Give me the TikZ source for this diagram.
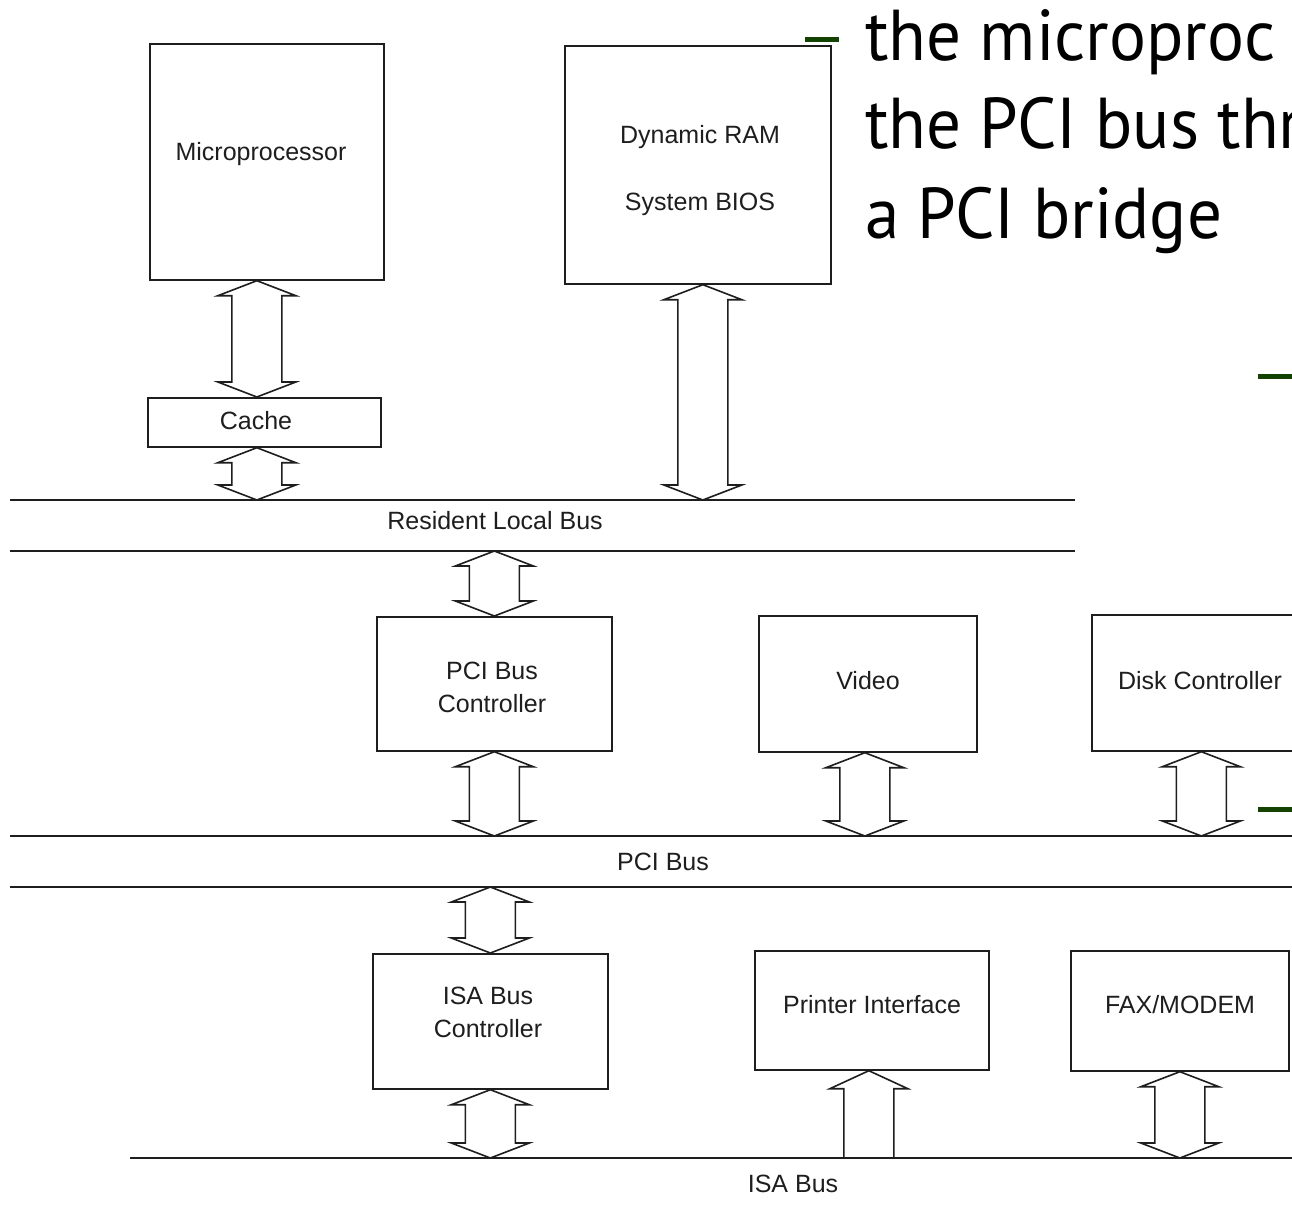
\documentclass[tikz,border=0pt]{standalone}
\usepackage{fontspec}
\setmainfont{Liberation Sans}
\newfontfamily\slidefont[FakeStretch=0.96]{PT Sans}
\usetikzlibrary{calc}
\definecolor{ink}{RGB}{30,30,30}
\definecolor{bulletgreen}{RGB}{20,66,0}

% hollow two-headed bus arrow between two points on the same vertical
\newcommand\dblarrow[2]{%
  \draw[barrow] (#1) -- ($(#1)+(39,15)$) -- ($(#1)+(25,15)$)
    -- ($(#2)+(25,-15)$) -- ($(#2)+(39,-15)$) -- (#2)
    -- ($(#2)+(-39,-15)$) -- ($(#2)+(-25,-15)$)
    -- ($(#1)+(-25,15)$) -- ($(#1)+(-39,15)$) -- cycle;}

\begin{document}
\begin{tikzpicture}[x=1pt,y=-1pt,
  box/.style={draw=ink, line width=1.7pt, inner sep=0pt, anchor=north west},
  lbl/.style={font=\fontsize{25}{30}\selectfont, text=ink, anchor=base, inner sep=0pt},
  bus/.style={draw=ink, line width=1.8pt},
  barrow/.style={draw=ink, line width=1.6pt, line join=miter, fill=white},
  bulletdash/.style={draw=bulletgreen, line width=5pt},
  slide/.style={font=\slidefont\fontsize{72}{89}\selectfont, anchor=base west, inner sep=0pt}
]
\clip (0,0) rectangle (1292,1207);
\fill[white] (0,0) rectangle (1292,1207);

% ---- boxes ----
\node[box, minimum width=234pt, minimum height=236pt] (micro) at (149,43) {};
\node[box, minimum width=266pt, minimum height=238pt] (dram) at (564,45) {};
\node[box, minimum width=233pt, minimum height=49pt] (cache) at (147,397) {};
\node[box, minimum width=235pt, minimum height=134pt] (pcic) at (376,616) {};
\node[box, minimum width=218pt, minimum height=136pt] (video) at (758,615) {};
\node[box, minimum width=219pt, minimum height=136pt] (disk) at (1091,614) {};
\node[box, minimum width=235pt, minimum height=135pt] (isac) at (372,953) {};
\node[box, minimum width=234pt, minimum height=119pt] (printer) at (754,950) {};
\node[box, minimum width=218pt, minimum height=120pt] (fax) at (1070,950) {};

% ---- box labels ----
\node[lbl] (microL) at (261,160) {Microprocessor};
\node[lbl] (dramL1) at (700,143) {Dynamic RAM};
\node[lbl] (dramL2) at (700,210) {System BIOS};
\node[lbl] (cacheL) at (256,429) {Cache};
\node[lbl] (pcicL1) at (492,679) {PCI Bus};
\node[lbl] (pcicL2) at (492,712) {Controller};
\node[lbl] (videoL) at (868,689) {Video};
\node[lbl] (diskL) at (1200,689) {Disk Controller};
\node[lbl] (isacL1) at (488,1004) {ISA Bus};
\node[lbl] (isacL2) at (488,1037) {Controller};
\node[lbl] (printerL) at (872,1013) {Printer Interface};
\node[lbl] (faxL) at (1180,1013) {FAX/MODEM};

% ---- buses ----
\coordinate (rlbA0) at (10,500);  \coordinate (rlbA1) at (1075,500);
\coordinate (rlbB0) at (10,551);  \coordinate (rlbB1) at (1075,551);
\coordinate (pciA0) at (10,836);  \coordinate (pciA1) at (1292,836);
\coordinate (pciB0) at (10,887);  \coordinate (pciB1) at (1292,887);
\coordinate (isa0) at (130,1158); \coordinate (isa1) at (1292,1158);
\draw[bus] (rlbA0) -- (rlbA1);
\draw[bus] (rlbB0) -- (rlbB1);
\draw[bus] (pciA0) -- (pciA1);
\draw[bus] (pciB0) -- (pciB1);
\draw[bus] (isa0) -- (isa1);
\node[lbl] (rlbL) at (495,529) {Resident Local Bus};
\node[lbl] (pciL) at (663,870) {PCI Bus};
\node[lbl] (isaL) at (793,1192) {ISA Bus};

% ---- bus arrows ----
\coordinate (a1t) at ([xshift=-10pt]micro.south);
\coordinate (a1b) at (a1t |- cache.north);
\dblarrow{a1t}{a1b}
\coordinate (a2t) at (a1t |- cache.south);
\coordinate (a2b) at (a1t |- rlbA0);
\dblarrow{a2t}{a2b}
\coordinate (a3t) at ([xshift=5pt]dram.south);
\coordinate (a3b) at (a3t |- rlbA0);
\dblarrow{a3t}{a3b}
\coordinate (a4t) at (pcic.north |- rlbB0);
\dblarrow{a4t}{pcic.north}
\coordinate (a5b) at (pcic.south |- pciA0);
\dblarrow{pcic.south}{a5b}
\coordinate (a6t) at ([xshift=-3pt]video.south);
\coordinate (a6b) at (a6t |- pciA0);
\dblarrow{a6t}{a6b}
\coordinate (a7b) at (disk.south |- pciA0);
\dblarrow{disk.south}{a7b}
\coordinate (a8t) at (isac.north |- pciB0);
\dblarrow{a8t}{isac.north}
\coordinate (a9b) at (isac.south |- isa0);
\dblarrow{isac.south}{a9b}
\coordinate (a11b) at (fax.south |- isa0);
\dblarrow{fax.south}{a11b}
% one-way arrow from the ISA bus up to the printer interface
\coordinate (a10t) at ([xshift=-3pt]printer.south);
\coordinate (a10b) at (a10t |- isa0);
\draw[barrow, fill=none] ($(a10b)+(-25,0)$) -- ($(a10t)+(-25,18)$) -- ($(a10t)+(-39,18)$)
  -- (a10t) -- ($(a10t)+(39,18)$) -- ($(a10t)+(25,18)$) -- ($(a10b)+(25,0)$);

% ---- slide text ----
\draw[bulletdash] (805,40) -- (839,40);
\draw[bulletdash] (1258,376) -- (1292,376);
\draw[bulletdash] (1258,809) -- (1292,809);
\node[slide] (slide1) at (865,60) {the microproc};
\node[slide] (slide2) at (865,148) {the PCI bus thr};
\node[slide] (slide3) at (865,238) {a PCI bridge};
\end{tikzpicture}
\end{document}
